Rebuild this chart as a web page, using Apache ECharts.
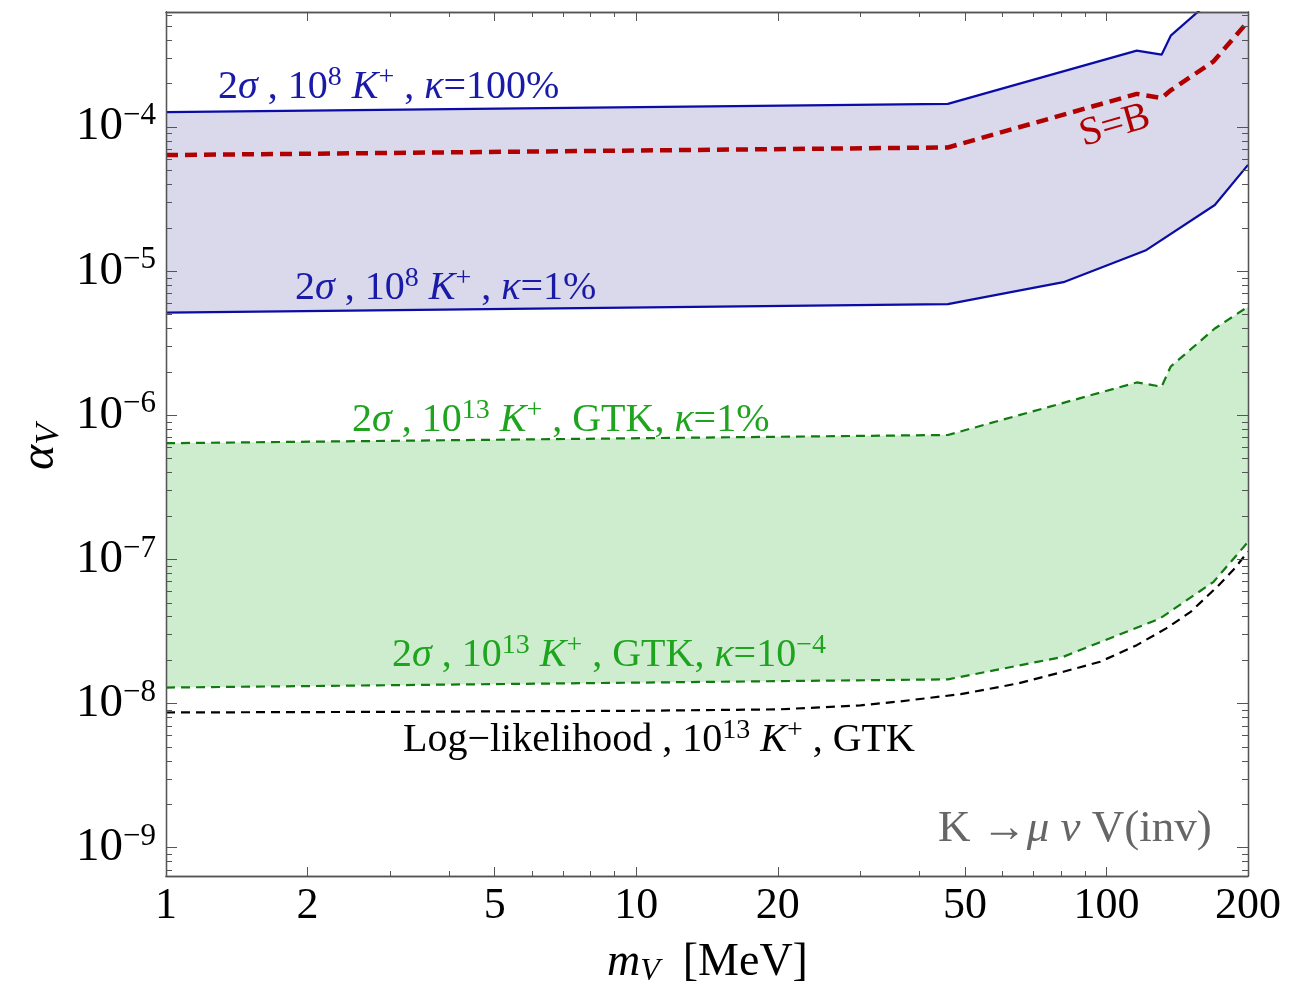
<!DOCTYPE html>
<html><head><meta charset="utf-8">
<script src="https://cdn.jsdelivr.net/npm/echarts@6/dist/echarts.min.js"></script>
<style>html,body{margin:0;padding:0;background:#fff}#c{width:1308px;height:986px}</style>
</head><body><div id="c"></div>
<script>
// ---- data (m_V in MeV, alpha_V) ----
const mBlueUpper = [1, 46, 116, 131, 137, 170, 200];
const aBlueUpper = [1.27e-4, 1.45e-4, 3.39e-4, 3.18e-4, 4.31e-4, 8.0e-4, 1.13e-3];
const mBlueLower = [1, 46, 81, 121, 170, 200];
const aBlueLower = [5.16e-6, 5.9e-6, 8.39e-6, 1.39e-5, 2.88e-5, 5.47e-5];
const mSB = [1, 46, 116, 131, 137, 169, 200];
const aSB = [6.39e-5, 7.22e-5, 1.70e-4, 1.59e-4, 1.80e-4, 2.86e-4, 5.41e-4];
const mGreenUpper = [1, 46, 116, 131, 137, 170, 200];
const aGreenUpper = [6.4e-7, 7.3e-7, 1.69e-6, 1.58e-6, 2.18e-6, 4.0e-6, 5.67e-6];
const mGreenLower = [1, 46, 81, 130, 169, 200];
const aGreenLower = [1.29e-8, 1.47e-8, 2.11e-8, 3.89e-8, 6.99e-8, 1.32e-7];
const mLogLik = [1, 3, 10, 20, 30, 36, 49, 65, 81, 97, 116, 134, 151, 172, 186, 200];
const aLogLik = [8.66e-9, 8.75e-9, 8.9e-9, 9.1e-9, 9.7e-9, 1.03e-8, 1.16e-8, 1.38e-8, 1.66e-8, 1.95e-8, 2.54e-8, 3.32e-8, 4.32e-8, 6.46e-8, 8.43e-8, 1.13e-7];

// ---- ticks ----
const xMajorTicks = [1, 2, 5, 10, 20, 50, 100, 200];
const xMinorTicks = [3, 4, 6, 7, 8, 9, 30, 40, 60, 70, 80, 90];
const yMajorTicks = [1e-9, 1e-8, 1e-7, 1e-6, 1e-5, 1e-4];
const yMinorTicks = [7e-10, 8e-10, 9e-10,
  2e-9, 3e-9, 4e-9, 5e-9, 6e-9, 7e-9, 8e-9, 9e-9,
  2e-8, 3e-8, 4e-8, 5e-8, 6e-8, 7e-8, 8e-8, 9e-8,
  2e-7, 3e-7, 4e-7, 5e-7, 6e-7, 7e-7, 8e-7, 9e-7,
  2e-6, 3e-6, 4e-6, 5e-6, 6e-6, 7e-6, 8e-6, 9e-6,
  2e-5, 3e-5, 4e-5, 5e-5, 6e-5, 7e-5, 8e-5, 9e-5,
  2e-4, 3e-4, 4e-4, 5e-4, 6e-4];
const X_MIN = 1, X_MAX = 200, Y_MIN = 6.35e-10, Y_MAX = 6.29e-4;

const SERIF = 'Liberation Serif';
const FRAME = '#555';

function xAx(pos, ticks, len, labels) {
  return {
    type: 'log', logBase: 10, min: X_MIN, max: X_MAX, position: pos, z: 10,
    axisLine: { show: true, onZero: false, lineStyle: { color: FRAME, width: 1.3 } },
    axisTick: { show: true, inside: true, length: len, customValues: ticks, lineStyle: { color: FRAME, width: 1 } },
    axisLabel: labels ? {
      show: true, customValues: ticks, margin: 8,
      fontFamily: SERIF, fontSize: 44, color: '#000',
      formatter: v => String(Math.round(v))
    } : { show: false },
    splitLine: { show: false }, minorTick: { show: false }
  };
}
function yAx(pos, ticks, len, labels) {
  return {
    type: 'log', logBase: 10, min: Y_MIN, max: Y_MAX, position: pos, z: 10,
    axisLine: { show: true, onZero: false, lineStyle: { color: FRAME, width: 1.3 } },
    axisTick: { show: true, inside: true, length: len, customValues: ticks, lineStyle: { color: FRAME, width: 1 } },
    axisLabel: labels ? {
      show: true, customValues: ticks, margin: 10,
      formatter: v => '{m|10}{s|\u2212' + Math.round(-Math.log10(v)) + '}',
      rich: {
        m: { fontFamily: SERIF, fontSize: 47, color: '#000', lineHeight: 47 },
        s: { fontFamily: SERIF, fontSize: 31, color: '#000', lineHeight: 31, padding: [0, 0, 22, 0] }
      }
    } : { show: false },
    splitLine: { show: false }, minorTick: { show: false }
  };
}

function band(mU, aU, mL, aL, color) {
  return {
    type: 'custom', coordinateSystem: 'cartesian2d', xAxisIndex: 0, yAxisIndex: 0,
    clip: true, silent: true, z: 1,
    data: [[mU[0], aU[0]]],
    renderItem: (params, api) => {
      const pts = [];
      for (let i = 0; i < mU.length; i++) pts.push(api.coord([mU[i], aU[i]]));
      for (let i = mL.length - 1; i >= 0; i--) pts.push(api.coord([mL[i], aL[i]]));
      const cs = params.coordSys;
      return {
        type: 'polygon', shape: { points: pts }, style: { fill: color },
        clipPath: { type: 'rect', shape: { x: cs.x, y: cs.y, width: cs.width, height: cs.height } }
      };
    }
  };
}
function line(ms, as, color, width, dash, z) {
  return {
    type: 'line', xAxisIndex: 0, yAxisIndex: 0, showSymbol: false, symbol: 'none', clip: true, z: z || 3,
    data: ms.map((m, i) => [m, as[i]]),
    lineStyle: { color: color, width: width, type: dash || 'solid' }
  };
}

function richStyles(color, size) {
  const ss = Math.round(size * 0.7);
  return {
    r: { fontFamily: SERIF, fontSize: size, fill: color, lineHeight: size },
    i: { fontFamily: SERIF, fontSize: size, fontStyle: 'italic', fill: color, lineHeight: size },
    s: { fontFamily: SERIF, fontSize: ss, fill: color, lineHeight: ss, padding: [0, 0, Math.round(size * 0.46), 0] },
    sub: { fontFamily: SERIF, fontSize: ss, fontStyle: 'italic', fill: color, lineHeight: ss, padding: [Math.round(size * 0.4), 0, 0, 0] }
  };
}
function label(x, y, text, color, size, extra) {
  return Object.assign({
    type: 'text', x: x, y: y, z: 20, silent: true,
    style: { text: text, rich: richStyles(color, size), fill: color, fontFamily: SERIF, fontSize: size,
             textAlign: 'left', textVerticalAlign: 'middle' }
  }, extra || {});
}

const BLUE = '#0b0ba6', BLUE_TXT = '#1a1aa8', RED = '#b00000', GREEN = '#117a11', GREEN_TXT = '#1fa41f';

const chart = echarts.init(document.getElementById('c'), null, { renderer: 'canvas' });
chart.setOption({
  animation: false,
  backgroundColor: '#fff',
  grid: { left: 166, right: 60, top: 12, bottom: 110, containLabel: false },
  xAxis: [xAx('bottom', xMajorTicks, 9, true), xAx('bottom', xMinorTicks, 5, false),
          xAx('top', xMajorTicks, 9, false), xAx('top', xMinorTicks, 5, false)],
  yAxis: [yAx('left', yMajorTicks, 11, true), yAx('left', yMinorTicks, 6, false),
          yAx('right', yMajorTicks, 11, false), yAx('right', yMinorTicks, 6, false)],
  series: [
    band(mBlueUpper, aBlueUpper, mBlueLower, aBlueLower, '#d9d9eb'),
    band(mGreenUpper, aGreenUpper, mGreenLower, aGreenLower, '#ceedce'),
    line(mBlueUpper, aBlueUpper, BLUE, 2.2),
    line(mBlueLower, aBlueLower, BLUE, 2.2),
    line(mGreenUpper, aGreenUpper, GREEN, 2.2, [9, 6]),
    line(mGreenLower, aGreenLower, GREEN, 2.2, [9, 6]),
    line(mLogLik, aLogLik, '#000', 2.2, [9, 6]),
    line(mSB, aSB, RED, 4.5, [12, 7], 4)
  ],
  graphic: [
    label(218, 87, '{r|2}{i|σ}{r| , 10}{s|8}{r| }{i|K}{s|+}{r| , }{i|κ}{r|=100%}', BLUE_TXT, 40),
    label(295, 288, '{r|2}{i|σ}{r| , 10}{s|8}{r| }{i|K}{s|+}{r| , }{i|κ}{r|=1%}', BLUE_TXT, 40),
    label(352, 420, '{r|2}{i|σ}{r| , 10}{s|13}{r| }{i|K}{s|+}{r| , GTK, }{i|κ}{r|=1%}', GREEN_TXT, 40),
    label(392, 655, '{r|2}{i|σ}{r| , 10}{s|13}{r| }{i|K}{s|+}{r| , GTK, }{i|κ}{r|=10}{s|\u22124}', GREEN_TXT, 40),
    label(403, 740, '{r|Log\u2212likelihood , 10}{s|13}{r| }{i|K}{s|+}{r| , GTK}', '#000', 40),
    label(938, 829, '{r|K \u2192}{i|μ ν}{r| V(inv)}', '#666', 45),
    label(1115, 126, '{r|S=B}', RED, 40, { rotation: 16 * Math.PI / 180, style: { text: '{r|S=B}', rich: richStyles(RED, 40), textAlign: 'center', textVerticalAlign: 'middle' } }),
    label(607, 963, '{i|m}{sub|V}{r|  [MeV]}', '#000', 46),
    label(40, 447, '{i|α}{sub|V}', '#000', 48, { rotation: Math.PI / 2, style: { text: '{i|α}{sub|V}', rich: richStyles('#000', 48), textAlign: 'center', textVerticalAlign: 'middle' } })
  ]
});
</script></body></html>
